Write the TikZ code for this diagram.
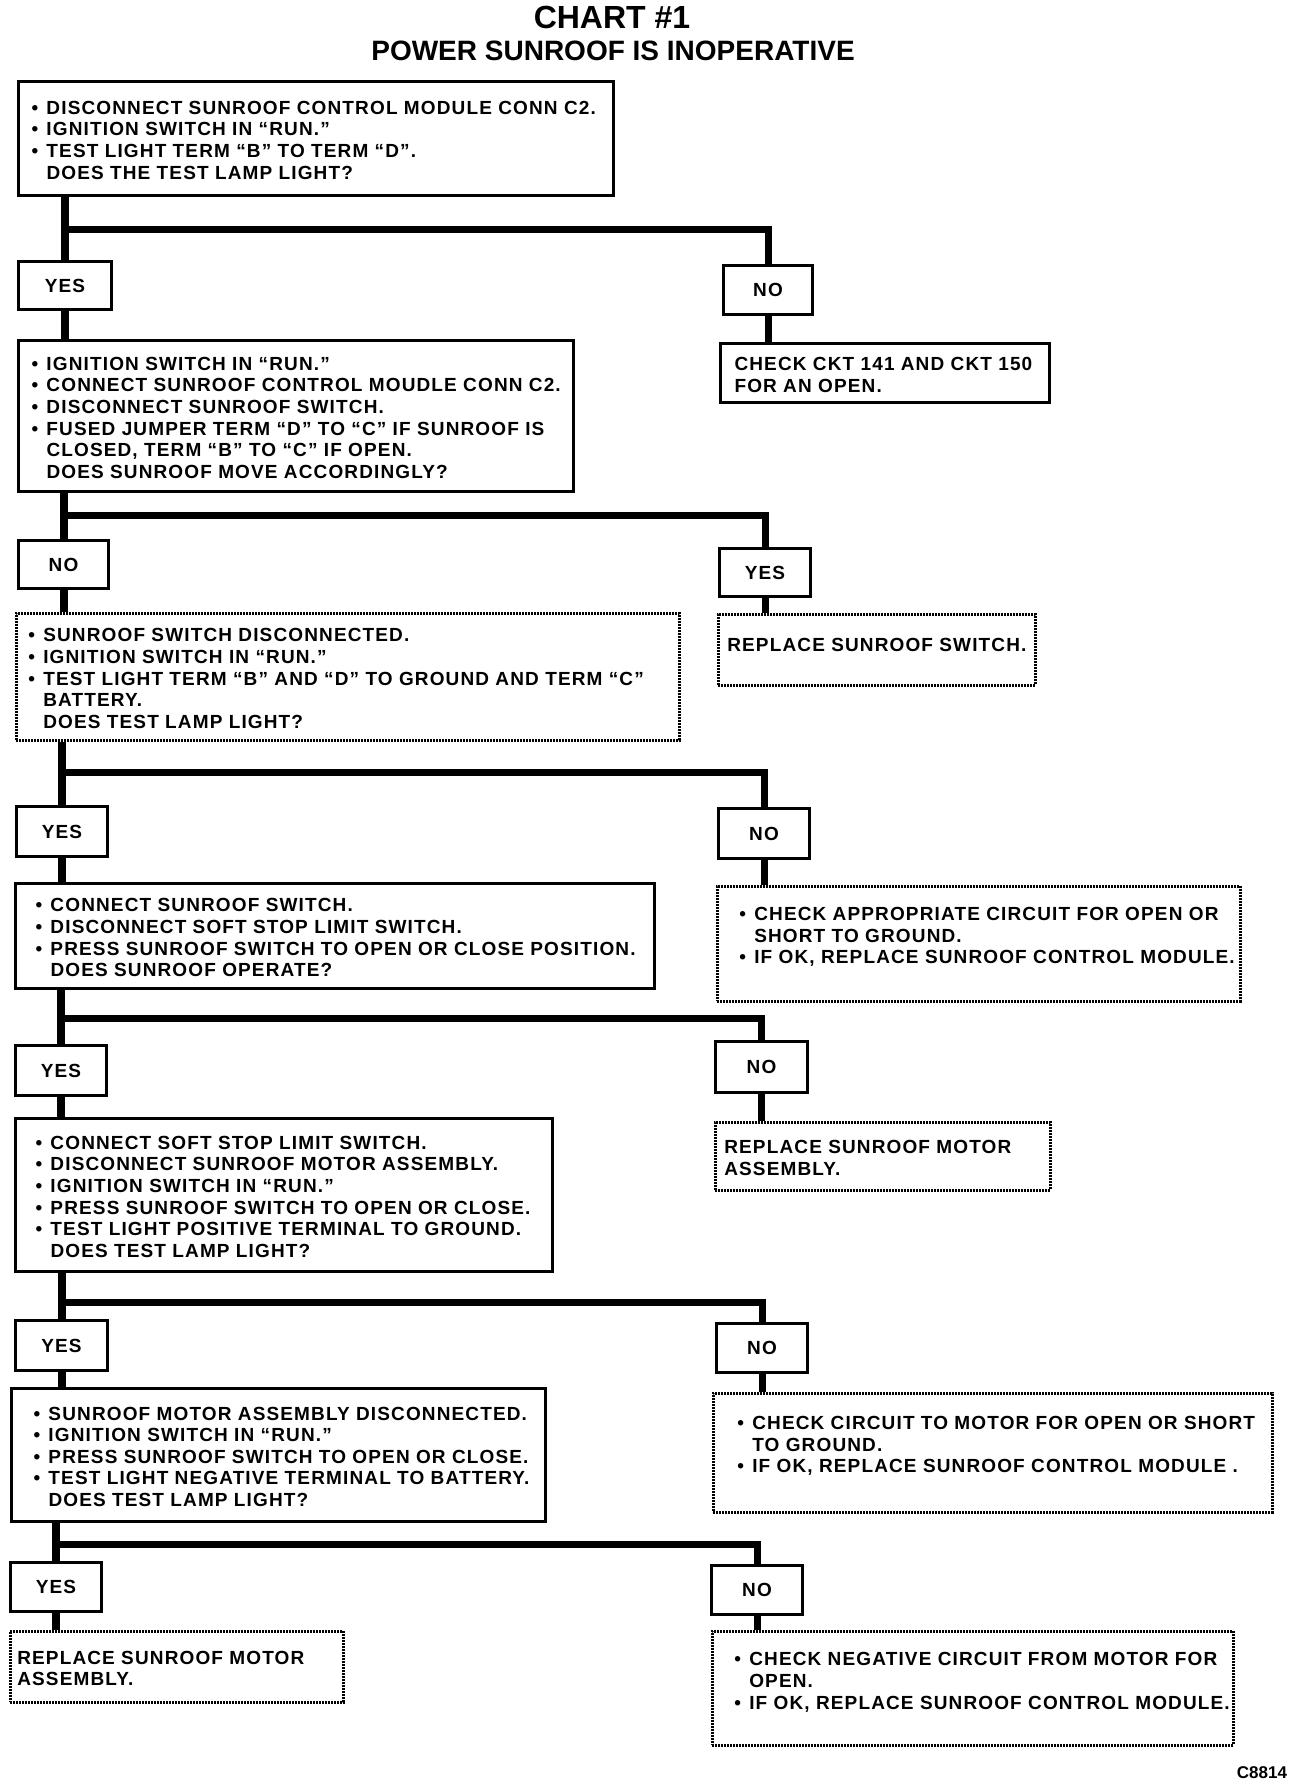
\documentclass[tikz,border=0pt]{standalone}
\usepackage{fontspec}
\newfontfamily\chartfont{Liberation Sans}[LetterSpace=6]
\newfontfamily\headfont{Liberation Sans}
\usepackage{tikz}
\usetikzlibrary{positioning, calc}

\newcommand{\bul}{\makebox[15pt][l]{•}}
\newcommand{\cont}{\hspace*{15pt}}
\newcommand{\steplines}[1]{\noindent\begin{tabular}{@{}l@{}}\rule{0pt}{23pt}\ignorespaces#1\end{tabular}}

\begin{document}
\begin{tikzpicture}[x=1pt, y=-1pt, every node/.style={font=\chartfont\bfseries\fontsize{19}{21.6}\selectfont}]
		\tikzstyle{testbox}=[draw=black, line width=3pt, anchor=north west, align=left, inner ysep=0pt]
		\tikzstyle{fixbox}=[testbox, dash pattern=on 2pt off 1pt, line width=2.6pt]
		\tikzstyle{answer}=[draw=black, line width=3pt, anchor=north west, inner sep=0pt]
		\tikzstyle{trunk}=[line width=8pt]
		\tikzstyle{branch}=[line width=7pt]
		
		\useasboundingbox (0,0) rectangle (1312,1788);
		
		\node (title) at (612,17) [font=\headfont\bfseries\fontsize{32}{36}\selectfont] {CHART \#1};
		\node (subtitle) at (613,51) [font=\headfont\bfseries\fontsize{28}{32}\selectfont] {POWER SUNROOF IS INOPERATIVE};
		
		% level 1
		\node (t1) at (17,80) [testbox, minimum width=595, minimum height=114, inner xsep=13, text width=569] {\steplines{
			\bul DISCONNECT SUNROOF CONTROL MODULE CONN C2.\\
			\bul IGNITION SWITCH IN “RUN.”\\
			\bul TEST LIGHT TERM “B” TO TERM “D”.\\
			\cont DOES THE TEST LAMP LIGHT?}};
		\node (l1) at (17,260) [answer, minimum width=93, minimum height=48] {YES};
		\node (r1) at (722,264) [answer, minimum width=89, minimum height=49] {NO};
		\node (f1) at (719,342) [testbox, minimum width=329, minimum height=59, inner xsep=14, text width=301] {\steplines{
			CHECK CKT 141 AND CKT 150\\
			FOR AN OPEN.}};
		
		% level 2
		\node (t2) at (17,339) [testbox, minimum width=555, minimum height=151, inner xsep=13, text width=529] {\steplines{
			\bul IGNITION SWITCH IN “RUN.”\\
			\bul CONNECT SUNROOF CONTROL MOUDLE CONN C2.\\
			\bul DISCONNECT SUNROOF SWITCH.\\
			\bul FUSED JUMPER TERM “D” TO “C” IF SUNROOF IS\\
			\cont CLOSED, TERM “B” TO “C” IF OPEN.\\
			\cont DOES SUNROOF MOVE ACCORDINGLY?}};
		\node (l2) at (17,539) [answer, minimum width=90, minimum height=48] {NO};
		\node (r2) at (718,547) [answer, minimum width=91, minimum height=48] {YES};
		\node (f2) at (717,613) [fixbox, minimum width=317, minimum height=71, inner xsep=9, text width=299] {\steplines{
			REPLACE SUNROOF SWITCH.\\[13pt]}};
		
		% level 3
		\node (t3) at (15,612) [fixbox, minimum width=663, minimum height=127, inner xsep=12, text width=639] {\steplines{
			\bul SUNROOF SWITCH DISCONNECTED.\\
			\bul IGNITION SWITCH IN “RUN.”\\
			\bul TEST LIGHT TERM “B” AND “D” TO GROUND AND TERM “C”\\
			\cont BATTERY.\\
			\cont DOES TEST LAMP LIGHT?}};
		\node (l3) at (15,805) [answer, minimum width=91, minimum height=50] {YES};
		\node (r3) at (717,807) [answer, minimum width=91, minimum height=50] {NO};
		\node (f3) at (716,885) [fixbox, minimum width=523, minimum height=115, inner xsep=22, text width=479] {\steplines{
			\bul CHECK APPROPRIATE CIRCUIT FOR OPEN OR\\
			\cont SHORT TO GROUND.\\
			\bul IF OK, REPLACE SUNROOF CONTROL MODULE.\\[20pt]}};
		
		% level 4
		\node (t4) at (14,882) [testbox, minimum width=639, minimum height=105, inner xsep=20, text width=599] {\steplines{
			\bul CONNECT SUNROOF SWITCH.\\
			\bul DISCONNECT SOFT STOP LIMIT SWITCH.\\
			\bul PRESS SUNROOF SWITCH TO OPEN OR CLOSE POSITION.\\
			\cont DOES SUNROOF OPERATE?}};
		\node (l4) at (14,1044) [answer, minimum width=91, minimum height=50] {YES};
		\node (r4) at (714,1040) [answer, minimum width=92, minimum height=51] {NO};
		\node (f4) at (714,1121) [fixbox, minimum width=335, minimum height=68, inner xsep=9, text width=317] {\steplines{
			REPLACE SUNROOF MOTOR\\
			ASSEMBLY.}};
		
		% level 5
		\node (t5) at (14,1117) [testbox, minimum width=537, minimum height=153, inner xsep=20, text width=497] {\steplines{
			\bul CONNECT SOFT STOP LIMIT SWITCH.\\
			\bul DISCONNECT SUNROOF MOTOR ASSEMBLY.\\
			\bul IGNITION SWITCH IN “RUN.”\\
			\bul PRESS SUNROOF SWITCH TO OPEN OR CLOSE.\\
			\bul TEST LIGHT POSITIVE TERMINAL TO GROUND.\\
			\cont DOES TEST LAMP LIGHT?}};
		\node (l5) at (14,1319) [answer, minimum width=92, minimum height=50] {YES};
		\node (r5) at (715,1322) [answer, minimum width=91, minimum height=49] {NO};
		\node (f5) at (712,1392) [fixbox, minimum width=559, minimum height=119, inner xsep=24, text width=511] {\steplines{
			\bul CHECK CIRCUIT TO MOTOR FOR OPEN OR SHORT\\
			\cont TO GROUND.\\
			\bul IF OK, REPLACE SUNROOF CONTROL MODULE .\\[20pt]}};
		
		% level 6
		\node (t6) at (10,1387) [testbox, minimum width=534, minimum height=133, inner xsep=22, text width=490] {\steplines{
			\bul SUNROOF MOTOR ASSEMBLY DISCONNECTED.\\
			\bul IGNITION SWITCH IN “RUN.”\\
			\bul PRESS SUNROOF SWITCH TO OPEN OR CLOSE.\\
			\bul TEST LIGHT NEGATIVE TERMINAL TO BATTERY.\\
			\cont DOES TEST LAMP LIGHT?}};
		\node (l6) at (9,1561) [answer, minimum width=91, minimum height=49] {YES};
		\node (r6) at (710,1564) [answer, minimum width=91, minimum height=49] {NO};
		\node (t7) at (9,1630) [fixbox, minimum width=333, minimum height=71, inner xsep=7, text width=319] {\steplines{
			REPLACE SUNROOF MOTOR\\
			ASSEMBLY.}};
		\node (f6) at (711,1630) [fixbox, minimum width=521, minimum height=114, inner xsep=22, text width=477] {\steplines{
			\bul CHECK NEGATIVE CIRCUIT FROM MOTOR FOR\\
			\cont OPEN.\\
			\bul IF OK, REPLACE SUNROOF CONTROL MODULE.\\[18pt]}};
		
		\node (code) at (1262,1773) [font=\headfont\bfseries\fontsize{17}{20}\selectfont] {C8814};
		
		% connectors
		\foreach \i/\n/\y in {1/2/229, 2/3/515, 3/4/772, 4/5/1018, 5/6/1302, 6/7/1544} {
			\coordinate (fork\i) at (l\i.north |- 0,\y);
			\draw [trunk] (l\i.north |- t\i.south) -- (l\i.north);
			\draw [trunk] (l\i.south) -- (l\i.south |- t\n.north);
			\draw [branch] (fork\i) -| (r\i.north);
			\draw [branch] (r\i.south) -- (r\i.south |- f\i.north);
		}
		\end{tikzpicture}
\end{document}
